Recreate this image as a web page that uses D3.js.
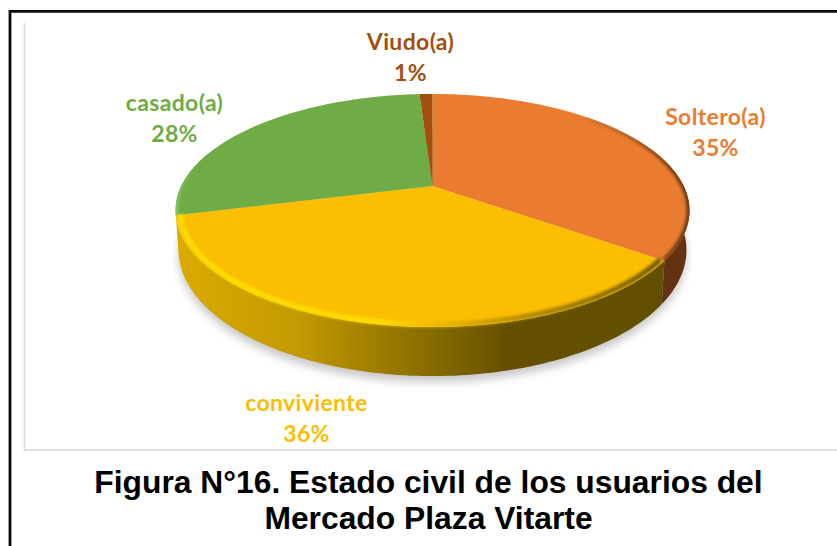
<!DOCTYPE html>
<html><head><meta charset="utf-8">
<script src="https://cdn.jsdelivr.net/npm/d3@7"></script>
<style>html,body{margin:0;padding:0;background:#fff;overflow:hidden}svg{display:block}</style>
</head><body><svg id="c" width="837" height="546"></svg>
<script>
const categories = ["Soltero(a)", "conviviente", "casado(a)", "Viudo(a)"];
const values = [35, 36, 28, 1];
const colors = ["#E97C30", "#FBBE00", "#6FAC46", "#A24E0F"];
const titleLines = ["Figura N°16. Estado civil de los usuarios del", "Mercado Plaza Vitarte"];

const svg = d3.select("#c");
const defs = svg.append("defs");

// frame
svg.append("path").attr("d","M837 11.3H10V546").attr("fill","none").attr("stroke","#0a0a0a").attr("stroke-width",2.8);
svg.append("path").attr("d","M24.5 23V450H837").attr("fill","none").attr("stroke","#dedede").attr("stroke-width",1.8);

// perspective disc: pie angles are projected on a tilted plane
const k = 0.2104, cx = 432.5, cy = 186, a = 251.2, b = 111.4;
const topMidY = 210.5, topRy = 116.5, topRx = 257;
const botMidY = 250, botRy = 126, botRx = 254;
function project(theta, r, lower){
  const u = r*Math.sin(theta), v = -r*Math.cos(theta);
  const w = 1 - k*v;
  const X = cx + a*u/w, Y = cy + b*v/w;
  if (!lower) return [X, Y];
  return [cx + (X-cx)*botRx/topRx, botMidY + (Y-topMidY)*botRy/topRy];
}
const pie = d3.pie().sort(null).value(d=>d)(values);
const line = d3.line();
function rim(a0,a1,lower,r=1){
  const n = Math.max(2, Math.ceil((a1-a0)/0.02));
  return d3.range(n+1).map(i=>project(a0+(a1-a0)*i/n,r,lower));
}

// shadow
defs.append("filter").attr("id","blur").attr("x","-20%").attr("y","-20%").attr("width","140%").attr("height","140%")
  .append("feGaussianBlur").attr("stdDeviation",5);
defs.append("filter").attr("id","soft").attr("x","-20%").attr("y","-20%").attr("width","140%").attr("height","140%")
  .append("feGaussianBlur").attr("stdDeviation",1.8);
svg.append("path").attr("d",line(rim(0,2*Math.PI,true))+"Z").attr("fill","#000").attr("opacity",0.22)
  .attr("transform","translate(0,6)").attr("filter","url(#blur)");

// side
const grad = defs.append("linearGradient").attr("id","side").attr("gradientUnits","userSpaceOnUse")
  .attr("x1",175).attr("x2",662).attr("y1",0).attr("y2",0);
[[0,"#DBAB00"],[0.25,"#C49A00"],[0.45,"#967800"],[0.57,"#7E6400"],[0.68,"#645000"],[1,"#625000"]]
  .forEach(s=>grad.append("stop").attr("offset",s[0]).attr("stop-color",s[1]));
const sideFill = ["#633212","url(#side)","#4f7a32","#6d350b"];
pie.forEach((d,i)=>{
  const lo = Math.max(d.startAngle, Math.PI*0.5), hi = Math.min(d.endAngle, Math.PI*1.42);
  if (hi<=lo) return;
  const top = rim(lo,hi,false), bot = rim(lo,hi,true).reverse();
  svg.append("path").attr("d",line(top.concat(bot))+"Z").attr("fill",sideFill[i]);
});

// top faces
defs.append("clipPath").attr("id","disc").append("path").attr("d",line(rim(0,2*Math.PI,false))+"Z");
pie.forEach((d,i)=>{
  const pts = [project(0,0,false)].concat(rim(d.startAngle,d.endAngle,false));
  svg.append("path").attr("d",line(pts)+"Z").attr("fill",colors[i]);
});

// bevel on the rim
const g2 = defs.append("linearGradient").attr("id","bev").attr("gradientUnits","userSpaceOnUse")
  .attr("x1",175).attr("x2",662).attr("y1",0).attr("y2",0);
[[0,"#FFE000"],[0.42,"#FFDE00"],[0.52,"#F4BC00"],[0.72,"#B08A00"],[1,"#6f5800"]]
  .forEach(s=>g2.append("stop").attr("offset",s[0]).attr("stop-color",s[1]));
const g3 = defs.append("linearGradient").attr("id","bevO").attr("gradientUnits","userSpaceOnUse")
  .attr("x1",560).attr("x2",680).attr("y1",0).attr("y2",0);
[[0,"#E97C30"],[0.45,"#C86A28"],[1,"#6b3a14"]]
  .forEach((s)=>g3.append("stop").attr("offset",s[0]).attr("stop-color",s[1]));
const g4 = defs.append("linearGradient").attr("id","bevG").attr("gradientUnits","userSpaceOnUse")
  .attr("x1",0).attr("x2",0).attr("y1",165).attr("y2",215);
[[0,"#6FAC46"],[1,"#86CC5C"]].forEach(s=>g4.append("stop").attr("offset",s[0]).attr("stop-color",s[1]));

const bevel = svg.append("g").attr("clip-path","url(#disc)");
bevel.append("path").attr("d",line(rim(Math.PI*0.25,pie[0].endAngle,false)))
  .attr("fill","none").attr("stroke","url(#bevO)").attr("stroke-width",6).attr("filter","url(#soft)");
bevel.append("path").attr("d",line(rim(pie[2].startAngle,Math.PI*1.6,false)))
  .attr("fill","none").attr("stroke","url(#bevG)").attr("stroke-width",5).attr("filter","url(#soft)");
svg.append("path").attr("d",line(rim(pie[1].startAngle,pie[1].endAngle,false,0.985)))
  .attr("fill","none").attr("stroke","url(#bev)").attr("stroke-width",5).attr("filter","url(#soft)");

// labels
const labelPos = [[715.5,125],[306.5,411],[174.5,111],[410.5,50]];
pie.forEach((d,i)=>{
  const t = svg.append("text").attr("text-anchor","middle").attr("fill",colors[i])
    .attr("font-family","Lato, 'Open Sans', sans-serif").attr("font-weight",700).attr("font-size",23).attr("letter-spacing",0.35);
  t.append("tspan").attr("x",labelPos[i][0]).attr("y",labelPos[i][1]).text(categories[i]);
  t.append("tspan").attr("x",labelPos[i][0]).attr("y",labelPos[i][1]+30.5).text(d3.format(".0%")(values[i]/d3.sum(values)));
});

// title
svg.selectAll("text.title").data(titleLines).join("text").attr("class","title")
  .attr("x",428.5).attr("y",(d,i)=>493+i*35.5).attr("text-anchor","middle")
  .attr("font-family","'Liberation Sans', Arial, sans-serif").attr("font-weight",700).attr("font-size",31.8).attr("fill","#000").text(d=>d);
</script></body></html>
